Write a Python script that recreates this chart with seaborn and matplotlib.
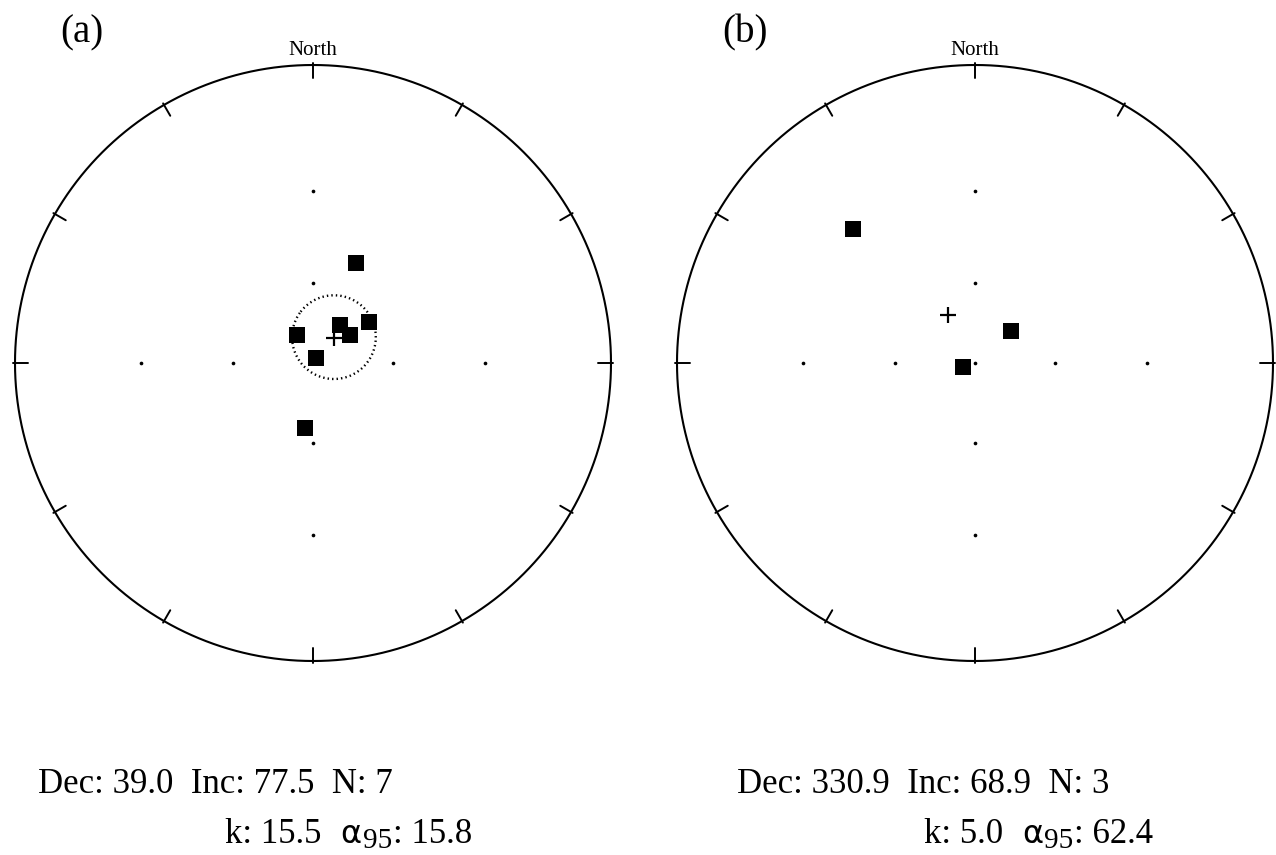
import numpy as np
import matplotlib
matplotlib.use("Agg")
import matplotlib.pyplot as plt
import seaborn as sns
import pandas as pd

# ---------------- data ----------------
panel_labels = ["(a)", "(b)"]
dec_a = [23.3, 35.4, 53.8, 52.9, 330.3, 31.0, 187.0]
inc_a = [49.9, 72.2, 63.8, 72.3, 77.6, 87.8, 65.2]
dec_b = [317.7, 48.4, 251.6]
inc_b = [27.4, 71.6, 85.1]
mean_dec = [39.0, 330.9]
mean_inc = [77.5, 68.9]
n_sites = [7, 3]
kappa = [15.5, 5.0]
alpha95 = [15.8, 62.4]
draw_cone = [True, False]
grid_inc = [90, 60, 30]
grid_dec = [0, 90, 180, 270]
tick_dec = list(range(0, 360, 30))

sns.set_theme(style="white")
plt.rcParams["font.family"] = ["Liberation Serif", "DejaVu Serif"]
plt.rcParams["text.color"] = "black"

W, H = 1276, 855
fig = plt.figure(figsize=(W / 100, H / 100), dpi=100)
fig.patch.set_facecolor("white")


def wulff(dec, inc):
    dec = np.radians(np.asarray(dec, float))
    inc = np.asarray(inc, float)
    r = np.tan(np.radians(90.0 - inc) / 2.0)
    return r * np.sin(dec), r * np.cos(dec)


def cone(dec0, inc0, a95, n=200):
    d0, i0 = np.radians(dec0), np.radians(inc0)
    m = np.array([np.cos(i0) * np.cos(d0), np.cos(i0) * np.sin(d0), np.sin(i0)])
    u = np.cross(m, [0, 0, 1.0])
    u /= np.linalg.norm(u)
    v = np.cross(m, u)
    a = np.radians(a95)
    t = np.linspace(0, 2 * np.pi, n)
    p = np.cos(a) * m[:, None] + np.sin(a) * (np.outer(u, np.cos(t)) + np.outer(v, np.sin(t)))
    inc = np.degrees(np.arcsin(p[2]))
    dec = np.degrees(np.arctan2(p[1], p[0]))
    return wulff(dec, inc)


R = 298
centers = [(313, 363), (975, 363)]
datas = [(dec_a, inc_a), (dec_b, inc_b)]
label_x = [60, 722]
stat_x1 = [38, 737]
stat_x2 = [225, 924]

renderer = fig.canvas.get_renderer()

for k in range(2):
    cx, cy = centers[k]
    ax = fig.add_axes([(cx - R) / W, 1 - (cy + R) / H, 2 * R / W, 2 * R / H])
    ax.set_xlim(-1, 1)
    ax.set_ylim(-1, 1)
    ax.set_aspect("equal")
    ax.axis("off")

    th = np.linspace(0, 2 * np.pi, 721)
    ax.plot(np.cos(th), np.sin(th), color="black", lw=1.5, clip_on=False)
    for td in tick_dec:
        s, c = np.sin(np.radians(td)), np.cos(np.radians(td))
        ax.plot([0.958 * s, 1.006 * s], [0.958 * c, 1.006 * c],
                color="black", lw=1.4, clip_on=False)

    gd, gi = [], []
    for i in grid_inc:
        for d in grid_dec:
            if i == 90 and d != 0:
                continue
            gd.append(d)
            gi.append(i)
    gx, gy = wulff(gd, gi)
    ax.scatter(gx, gy, s=7, color="black", zorder=2, linewidths=0)

    dd, ii = datas[k]
    px, py = wulff(dd, ii)
    df = pd.DataFrame({"x": px, "y": py})
    sns.scatterplot(data=df, x="x", y="y", ax=ax, marker="s", s=145,
                    color="black", edgecolor="black", linewidth=0, zorder=3)

    mx, my = wulff([mean_dec[k]], [mean_inc[k]])
    ax.plot(mx, my, marker="+", color="black", ms=12, mew=1.6, ls="none", zorder=4)
    if draw_cone[k]:
        cxs, cys = cone(mean_dec[k], mean_inc[k], alpha95[k])
        ax.plot(cxs, cys, color="black", lw=1.7, ls=(0, (0.6, 1.3)), zorder=3)
    ax.set_xlabel("")
    ax.set_ylabel("")

    fig.text(cx / W, 1 - 55 / H, "North", ha="center", va="baseline", fontsize=15)
    fig.text(label_x[k] / W, 1 - 42 / H, panel_labels[k], ha="left", va="baseline", fontsize=28)

    fs = 25
    fig.text(stat_x1[k] / W, 1 - 793 / H,
             f"Dec: {mean_dec[k]:.1f}  Inc: {mean_inc[k]:.1f}  N: {n_sites[k]}",
             ha="left", va="baseline", fontsize=fs)
    y2 = 843
    t1 = fig.text(stat_x2[k] / W, 1 - y2 / H, f"k: {kappa[k]:.1f}",
                  ha="left", va="baseline", fontsize=fs)
    x = t1.get_window_extent(renderer).x1 + 19
    t2 = fig.text(x / W, 1 - y2 / H, "α", ha="left", va="baseline",
                  fontsize=23, family=["DejaVu Sans"])
    x = t2.get_window_extent(renderer).x1 + 1
    t3 = fig.text(x / W, 1 - (y2 + 5) / H, "95", ha="left", va="baseline", fontsize=21)
    x = t3.get_window_extent(renderer).x1 + 1
    fig.text(x / W, 1 - y2 / H, f": {alpha95[k]:.1f}", ha="left", va="baseline", fontsize=fs)

fig.savefig("out.png", dpi=100, facecolor="white")
